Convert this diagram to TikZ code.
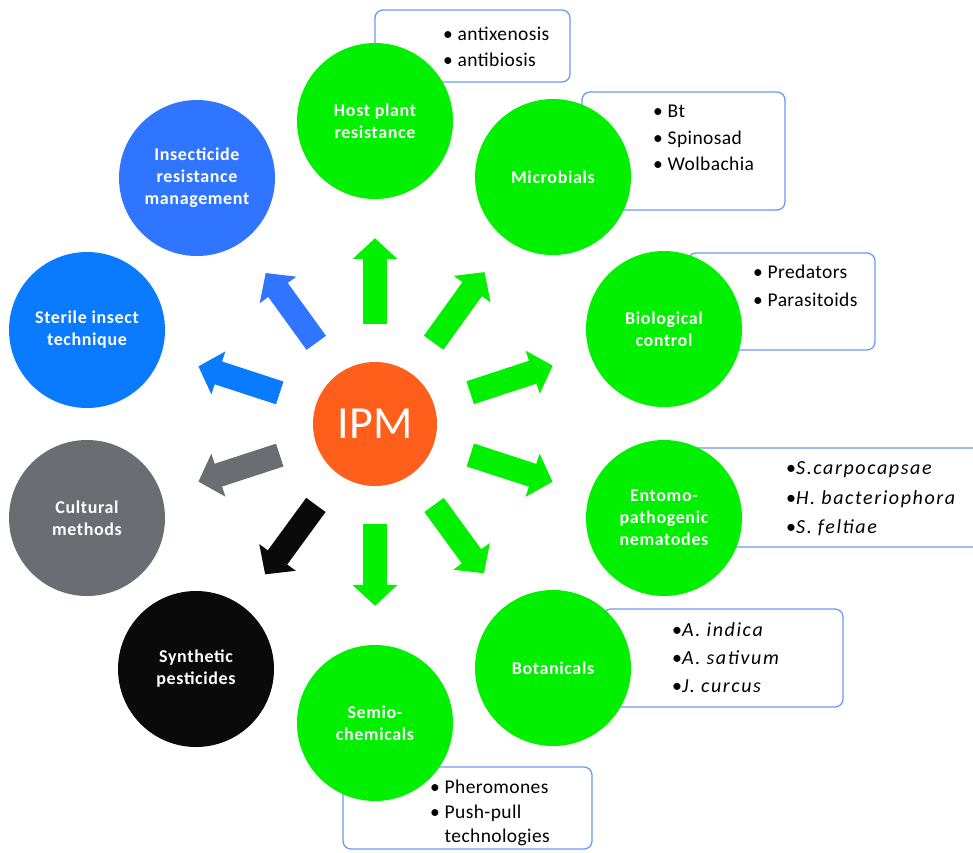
\documentclass[tikz,border=0pt]{standalone}
\usepackage{fontspec}
\setmainfont{Carlito}
\newfontfamily\topicfont[LetterSpace=3.5]{Carlito}
\newfontfamily\listfont[LetterSpace=2]{Carlito}
\newfontfamily\speciesfont[LetterSpace=8]{Carlito}
\usetikzlibrary{arrows.meta}

\definecolor{ipmorange}{HTML}{FF5F1A}
\definecolor{leafgreen}{HTML}{00F000}
\definecolor{irmblue}{HTML}{2F75FF}
\definecolor{sitblue}{HTML}{0A7BFF}
\definecolor{cultgray}{HTML}{6A6E73}
\definecolor{synthblack}{HTML}{0A0A0A}
\definecolor{boxblue}{HTML}{6A9AF0}

\begin{document}
\begin{tikzpicture}[x=1pt, y=-1pt,
	topic/.style={circle, inner sep=0pt, minimum size=156pt, text=white, align=center, font=\topicfont\bfseries\fontsize{18}{22}\selectfont},
	infobox/.style={draw=boxblue, line width=1.3pt, fill=white, rounded corners=8pt},
	listtext/.style={anchor=west, inner sep=0pt, align=left},
	blockarrow/.style={line width=24pt, -{Triangle[length=21pt,width=44pt]}, shorten <=38pt, shorten >=39pt}]

		\useasboundingbox (0,0) rectangle (973,852);

		% lists behind the circles
		\draw[infobox] (375,10) rectangle (570,82);
		\draw[infobox] (582,92) rectangle (785,210);
		\draw[infobox] (688,253) rectangle (875,350);
		\draw[infobox] (690,448) rectangle (995,547);
		\draw[infobox] (603,609) rectangle (843,707);
		\draw[infobox] (343,767) rectangle (592,849);

		\node[listtext, font=\listfont\fontsize{19.5}{26}\selectfont] (hostlist) at (443,47) {• antixenosis\\• antibiosis};
		\node[listtext, font=\listfont\fontsize{19.5}{26.5}\selectfont] (microlist) at (653,138) {• Bt\\• Spinosad\\• Wolbachia};
		\node[listtext, font=\listfont\fontsize{19.5}{28}\selectfont] (biolist) at (753,286) {• Predators\\• Parasitoids};
		\node[listtext, font=\speciesfont\fontsize{20}{29.5}\selectfont] (entolist) at (786,499) {•\textit{S.carpocapsae}\\•\textit{H. bacteriophora}\\•\textit{S. feltiae}};
		\node[listtext, font=\speciesfont\fontsize{20}{28}\selectfont] (botlist) at (672,658) {•\textit{A. indica}\\•\textit{A. sativum}\\•\textit{J. curcus}};
		\node[listtext, font=\listfont\fontsize{19.5}{24.5}\selectfont] (semiolist) at (430,813) {• Pheromones\\• Push-pull\\\phantom{• }technologies};

		% circles
		\node[circle, inner sep=0pt, minimum size=124pt, fill=ipmorange, text=white, font=\fontsize{46}{50}\selectfont] (ipm) at (375,424) {IPM};

		\node[topic, fill=leafgreen] (host) at (375,121) {Host plant\\resistance};
		\node[topic, fill=leafgreen] (micro) at (553,177) {Microbials};
		\node[topic, fill=leafgreen] (bio) at (664,329) {Biological\\control};
		\node[topic, fill=leafgreen] (ento) at (664,518) {Entomo-\\pathogenic\\nematodes};
		\node[topic, fill=leafgreen] (bot) at (553,668) {Botanicals};
		\node[topic, fill=leafgreen] (semio) at (375,723) {Semio-\\chemicals};
		\node[topic, fill=synthblack] (synth) at (196,669) {Synthetic\\pesticides};
		\node[topic, fill=cultgray] (cult) at (87,518) {Cultural\\methods};
		\node[topic, fill=sitblue] (sit) at (87,330) {Sterile insect\\technique};
		\node[topic, fill=irmblue] (irm) at (197,178) {Insecticide\\resistance\\management};

		% arrows out of IPM
		\foreach \dest in {host, micro, bio, ento, bot, semio}
			\draw[blockarrow, leafgreen] (ipm) -- (\dest);
		\draw[blockarrow, synthblack] (ipm) -- (synth);
		\draw[blockarrow, cultgray] (ipm) -- (cult);
		\draw[blockarrow, sitblue] (ipm) -- (sit);
		\draw[blockarrow, irmblue] (ipm) -- (irm);
\end{tikzpicture}
\end{document}
